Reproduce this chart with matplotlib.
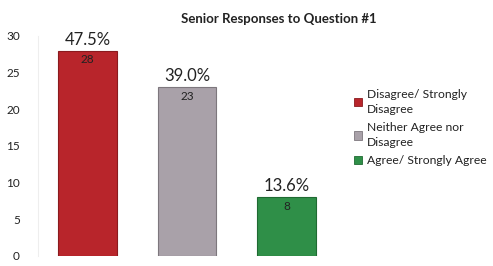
import matplotlib.pyplot as plt
from matplotlib.patches import Patch

plt.rcParams['font.family'] = ['Lato', 'DejaVu Sans']

categories = ['Disagree/ Strongly\nDisagree', 'Neither Agree nor\nDisagree', 'Agree/ Strongly Agree']
counts = [28, 23, 8]
percents = ['47.5%', '39.0%', '13.6%']
colors = ['#B8252B', '#A9A1A9', '#2F8F48']
edges = ['#8A1A1E', '#7D777D', '#1F6A32']

fig = plt.figure(figsize=(4.93, 2.66), dpi=100)
ax = fig.add_axes([0.077, 0.038, 0.605, 0.827])

x = range(len(counts))
ax.bar(x, counts, width=0.59, color=colors, edgecolor=edges, linewidth=0.8)

for i, val in enumerate(counts):
    ax.text(i, val - 0.5, str(val), ha='center', va='top', fontsize=8.5, color='#222222')
    ax.text(i, val + 0.4, percents[i], ha='center', va='bottom', fontsize=12, color='#222222')

ax.set_xlim(-0.5, 2.5)
ax.set_ylim(0, 30)
ax.set_yticks([0, 5, 10, 15, 20, 25, 30])
ax.set_xticks([])
ax.tick_params(axis='y', length=0, labelsize=8.5, pad=13, labelcolor='#222222')
for side in ['top', 'right', 'bottom']:
    ax.spines[side].set_visible(False)
ax.spines['left'].set_color('#EEEEEE')

fig.text(0.565, 0.93, 'Senior Responses to Question #1', ha='center', va='center',
         fontsize=9.5, fontweight='bold', color='#222222')

handles = [Patch(facecolor=c, edgecolor=e, linewidth=0.6) for c, e in zip(colors, edges)]
leg = fig.legend(handles, categories, loc='center left', bbox_to_anchor=(0.695, 0.52),
                 frameon=False, fontsize=8.7, handlelength=0.7, handleheight=0.7,
                 handletextpad=0.4, labelspacing=0.6, labelcolor='#222222')
for t in leg.get_texts():
    t.set_linespacing(1.45)

fig.savefig('out.png', dpi=100)
